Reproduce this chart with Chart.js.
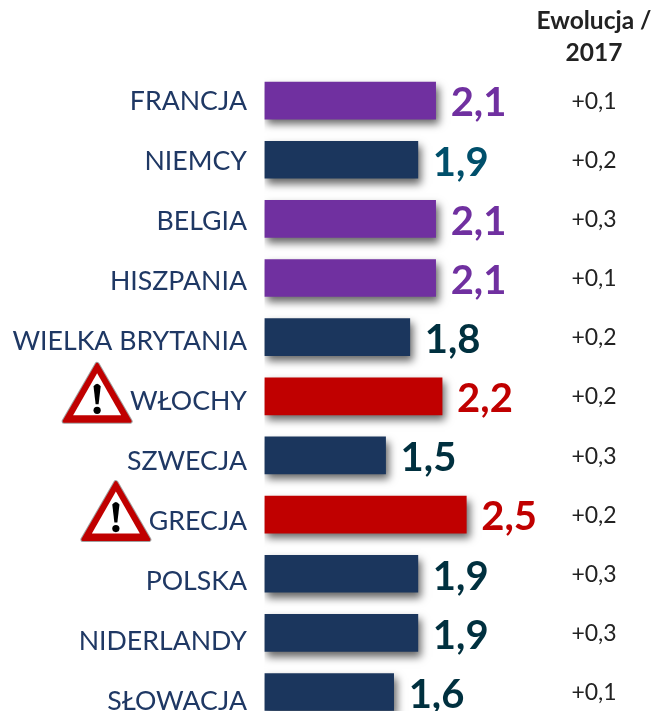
<!DOCTYPE html>
<html><head><meta charset="utf-8">
<style>html,body{margin:0;padding:0;background:#fff;overflow:hidden;width:656px;height:711px}
#w{position:relative;width:656px;height:711px;overflow:hidden}
canvas{display:block}</style>
<script src="https://cdn.jsdelivr.net/npm/chart.js@4"></script></head>
<body><div id="w"><canvas id="c" width="656" height="730" style="width:656px;height:730px"></canvas></div>
<script>
const categories=["FRANCJA","NIEMCY","BELGIA","HISZPANIA","WIELKA BRYTANIA","WŁOCHY","SZWECJA","GRECJA","POLSKA","NIDERLANDY","SŁOWACJA"];
const barLengths=[2.12,1.9,2.12,2.12,1.8,2.2,1.5,2.5,1.9,1.9,1.6];
const valueLabels=["2,1","1,9","2,1","2,1","1,8","2,2","1,5","2,5","1,9","1,9","1,6"];
const evolution=["+0,1","+0,2","+0,3","+0,1","+0,2","+0,2","+0,3","+0,2","+0,3","+0,3","+0,1"];
const barColors=["#7030A0","#1B365D","#7030A0","#7030A0","#1B365D","#C00000","#1B365D","#C00000","#1B365D","#1B365D","#1B365D"];
const valueColors=["#7030A0","#004F6B","#7030A0","#7030A0","#00303F","#C00000","#00303F","#C00000","#00303F","#00303F","#00303F"];
const warned=["WŁOCHY","GRECJA"];
const headerLines=["Ewolucja /","2017"];
const FONT='Lato, Carlito, sans-serif';
function triangle(ctx,cx,py){
  const top=py-32,base=py+25,hw=33;
  ctx.save();ctx.lineJoin='round';
  ctx.beginPath();ctx.moveTo(cx,top);ctx.lineTo(cx+hw,base);ctx.lineTo(cx-hw,base);ctx.closePath();
  ctx.strokeStyle='#a0a0a0';ctx.lineWidth=5;ctx.stroke();
  ctx.fillStyle='#C00000';ctx.strokeStyle='#C00000';ctx.lineWidth=3;ctx.fill();ctx.stroke();
  ctx.beginPath();ctx.moveTo(cx,py-23);ctx.lineTo(cx+24,py+19);ctx.lineTo(cx-24,py+19);ctx.closePath();
  ctx.fillStyle='#fff';ctx.fill();
  ctx.fillStyle='#000';
  ctx.beginPath();ctx.moveTo(cx-3.6,py-10);ctx.quadraticCurveTo(cx,py-15,cx+3.6,py-10);ctx.lineTo(cx+1.5,py+8);ctx.lineTo(cx-1.5,py+8);ctx.closePath();ctx.fill();
  ctx.beginPath();ctx.arc(cx,py+14,3.6,0,Math.PI*2);ctx.fill();
  ctx.restore();
}
const overlay={id:'overlay',
 beforeDatasetDraw(ch){const c=ch.ctx;c.save();c.shadowColor='rgba(0,0,0,0.6)';c.shadowBlur=8;c.shadowOffsetX=3;c.shadowOffsetY=5;},
 afterDatasetDraw(ch){ch.ctx.restore();},
 afterDraw(ch){
  const c=ch.ctx,y=ch.scales.y,meta=ch.getDatasetMeta(0);
  c.save();c.textBaseline='middle';
  categories.forEach((n,i)=>{
    const py=y.getPixelForTick(i),bar=meta.data[i];
    c.textAlign='right';c.font='26.7px '+FONT;c.fillStyle='#1F3864';
    c.fillText(n,247,py+1.2+i*0.83);
    if(warned.includes(n)){
      triangle(c,247-c.measureText(n).width-33,py);
    }
    c.textAlign='left';c.font='bold 40px '+FONT;c.fillStyle=valueColors[i];
    c.fillText(valueLabels[i],bar.x+15,py+3);
    c.textAlign='center';c.font='23px '+FONT;c.fillStyle='#222';
    c.fillText(evolution[i],594,py+0.7);
  });
  c.textAlign='center';c.font='bold 24.5px '+FONT;c.fillStyle='#222';
  headerLines.forEach((t,i)=>c.fillText(t,594,21+i*32));
  c.restore();
 }};
new Chart(document.getElementById('c'),{type:'bar',
 data:{labels:categories,datasets:[{data:barLengths,backgroundColor:barColors,barThickness:37,borderWidth:0}]},
 options:{indexAxis:'y',responsive:false,animation:false,
  layout:{padding:{left:264.5,top:71,right:0,bottom:8.4}},
  plugins:{legend:{display:false},tooltip:{enabled:false},title:{display:false}},
  scales:{
   x:{min:0,max:4.85,display:false},
   y:{display:false}
  }},
 plugins:[overlay]
});
</script></body></html>
